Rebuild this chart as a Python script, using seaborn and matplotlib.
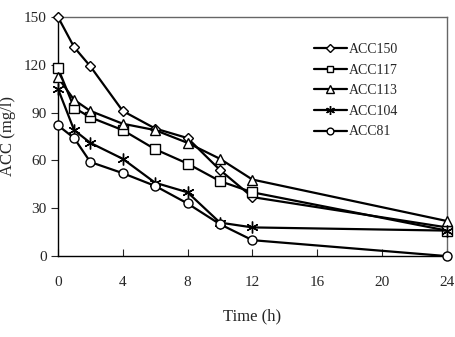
import pandas as pd
import matplotlib
matplotlib.use("Agg")
import matplotlib.pyplot as plt
import seaborn as sns

# === Data ===
hours = [0, 1, 2, 4, 6, 8, 10, 12, 24]
acc150 = [150, 131, 119, 91, 80, 74, 54, 37, 18]
acc117 = [118, 93, 87, 79, 67, 58, 47, 40, 16]
acc113 = [112, 98, 91, 83, 79, 71, 61, 48, 22]
acc104 = [105, 79, 71, 61, 46, 40, 21, 18, 16]
acc81 = [82, 74, 59, 52, 44, 33, 20, 10, 0]
series_names = ["ACC150", "ACC117", "ACC113", "ACC104", "ACC81"]
x_ticks = [0, 4, 8, 12, 16, 20, 24]
y_ticks = [0, 30, 60, 90, 120, 150]

series = dict(zip(series_names, [acc150, acc117, acc113, acc104, acc81]))
marker_map = {"ACC150": "D", "ACC117": "s", "ACC113": "^",
              "ACC104": (6, 2, 0), "ACC81": "o"}
size_map = {"ACC150": 5.2, "ACC117": 6.5, "ACC113": 7, "ACC104": 8.5, "ACC81": 6.5}

sns.set_style("ticks")
plt.rcParams["font.family"] = ["Liberation Serif", "DejaVu Serif"]

fig = plt.figure(figsize=(4.56, 3.37), dpi=100)
ax = fig.add_axes([0.127, 0.240, 0.853, 0.710])

for name in series_names:
    df = pd.DataFrame({"Time": hours, "ACC": series[name]})
    sns.lineplot(data=df, x="Time", y="ACC", ax=ax, color="black",
                 linewidth=1.6, marker=marker_map[name],
                 markersize=size_map[name], markerfacecolor="white",
                 markeredgecolor="black", markeredgewidth=1.0,
                 label=name, clip_on=False, zorder=3)

ax.set_xlim(0, 24)
ax.set_ylim(0, 150)
ax.set_xticks(x_ticks)
ax.set_yticks(y_ticks)
ax.tick_params(axis="x", direction="in", length=5, pad=14, labelsize=11)
ax.tick_params(axis="y", direction="out", length=5, pad=3, labelsize=11)
ax.set_xlabel("Time (h)", fontsize=12, labelpad=14)
ax.set_ylabel("ACC (mg/l)", fontsize=12, labelpad=6)

for side in ["left", "bottom"]:
    ax.spines[side].set_color("black")
    ax.spines[side].set_linewidth(1.0)
for side in ["top", "right"]:
    ax.spines[side].set_visible(True)
    ax.spines[side].set_color("#666666")
    ax.spines[side].set_linewidth(1.0)

ax.legend(loc="upper left", bbox_to_anchor=(0.64, 0.92), frameon=False,
          fontsize=10, handlelength=2.4, handletextpad=0.1,
          labelspacing=0.55, borderpad=0, markerscale=0.75)

fig.savefig("out.png", dpi=100)
